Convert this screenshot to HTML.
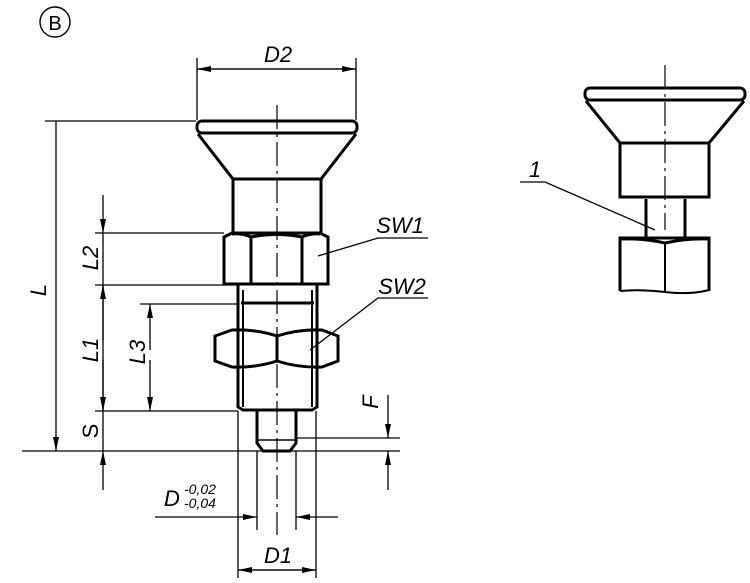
<!DOCTYPE html>
<html><head><style>html,body{margin:0;padding:0;background:#fff}svg{display:block}</style></head><body>
<svg width="750" height="583" viewBox="0 0 750 583" xmlns="http://www.w3.org/2000/svg" font-family="Liberation Sans, sans-serif">
<defs>
<marker id="a" viewBox="0 0 14 6" refX="14" refY="3" markerWidth="14" markerHeight="6" orient="auto" markerUnits="userSpaceOnUse"><path d="M0,0 L14,3 L0,6 z" fill="#000"/></marker>
</defs>
<g stroke="#000" fill="none">
<circle cx="55" cy="22" r="15" stroke-width="1.4"/>
<g stroke-width="3">
<rect x="197" y="121" width="160" height="12" rx="5"/>
<path d="M198,134 L233,179 L321,179 L356,134"/>
<rect x="233" y="179" width="88" height="54"/>
<path d="M224,237 L232,233 L320,233 L328,237 L328,284 L224,284 Z"/>
<path d="M232,234 Q242,233 251,237 Q277,232 302,237 Q311,233 320,234"/>
<path d="M251,236 L251,284 M302,236 L302,284"/>
<path d="M238,285 L238,407 L243,410 L312,410 L317,407 L317,285"/>
<path d="M241,303 L314,303"/>
<path d="M215,336 L232,330 Q255,329 277,336 Q299,329 322,330 L338,336 L338,361 L322,367 Q299,368 277,361 Q255,368 232,367 L215,361 Z"/>
<path d="M277,336 L277,361"/>
<path d="M257,411 L257,443 L263,451 L290,451 L296,443 L296,411"/>
</g>
<path d="M243,290 L243,407 M312,290 L312,407" stroke-width="2"/>
<path d="M258,440 L295,440" stroke-width="1.5"/>
<path d="M277,105 L277,535" stroke-width="1.2" stroke-dasharray="24,5,3,5"/>
<g stroke-width="1.3">
<path d="M197,58 L197,120 M356,58 L356,120"/>
<path d="M197,69 L356,69" marker-end="url(#a)"/><path d="M356,69 L197,69" marker-end="url(#a)"/>
<path d="M45,121 L196,121"/>
<path d="M56,121 L56,451" marker-end="url(#a)"/>
<path d="M95,233 L224,233 M95,285 L238,285 M140,304 L238,304 M95,411 L238,411 M22,451 L400,451 M296,438 L400,438"/>
<path d="M103,195 L103,233" marker-end="url(#a)"/>
<path d="M103,233 L103,411"/>
<path d="M103,340 L103,285" marker-end="url(#a)"/>
<path d="M103,360 L103,411" marker-end="url(#a)"/>
<path d="M103,490 L103,451" marker-end="url(#a)"/>
<path d="M103,451 L103,411"/>
<path d="M150,350 L150,304" marker-end="url(#a)"/><path d="M150,360 L150,411" marker-end="url(#a)"/>
<path d="M388,395 L388,438" marker-end="url(#a)"/><path d="M388,490 L388,451" marker-end="url(#a)"/>
<path d="M238,411 L238,578 M316,411 L316,578 M257,451 L257,530 M296,451 L296,530"/>
<path d="M155,517 L257,517" marker-end="url(#a)"/><path d="M338,517 L296,517" marker-end="url(#a)"/>
<path d="M238,570 L316,570" marker-end="url(#a)"/><path d="M316,570 L238,570" marker-end="url(#a)"/>
<path d="M318,256 L378,238 L428,238"/>
<path d="M310,350 L378,298 L428,298"/>
</g>
<g stroke-width="3">
<rect x="585" y="88" width="160" height="12" rx="5"/>
<path d="M586,101 L620,143 L709,143 L744,101"/>
<rect x="620" y="143" width="89" height="54"/>
<path d="M646,199 L646,237 M685,199 L685,237"/>
<path d="M620,291 L620,238 L709,238 L709,291"/>
<path d="M620,239 Q643,238 665,243 Q687,238 709,239"/>
</g>
<path d="M620,291 Q640,289 665,292 T709,290 M665,243 L665,292" stroke-width="2"/>
<path d="M665,65 L665,230" stroke-width="1.2" stroke-dasharray="24,5,3,5"/>
<path d="M655,230 L545,182 L520,182" stroke-width="1.3"/>
</g>
<g font-style="italic" font-size="22" fill="#000" text-anchor="middle">
<text x="55" y="30" font-style="normal" font-size="20">B</text>
<text x="278" y="62">D2</text>
<text x="400" y="233">SW1</text>
<text x="402" y="294">SW2</text>
<text x="535" y="177">1</text>
<text x="278" y="563">D1</text>
<text x="172" y="506">D</text>
<text x="46" y="290" transform="rotate(-90 46 290)">L</text>
<text x="98" y="258" transform="rotate(-90 98 258)">L2</text>
<text x="98" y="350" transform="rotate(-90 98 350)">L1</text>
<text x="145" y="352" transform="rotate(-90 145 352)">L3</text>
<text x="98" y="431" transform="rotate(-90 98 431)" font-style="normal">S</text>
<text x="378" y="402" transform="rotate(-90 378 402)">F</text>
</g>
<g font-style="italic" font-size="14" fill="#000">
<text x="184" y="494">-0,02</text>
<text x="184" y="508">-0,04</text>
</g>
</svg>
</body></html>
